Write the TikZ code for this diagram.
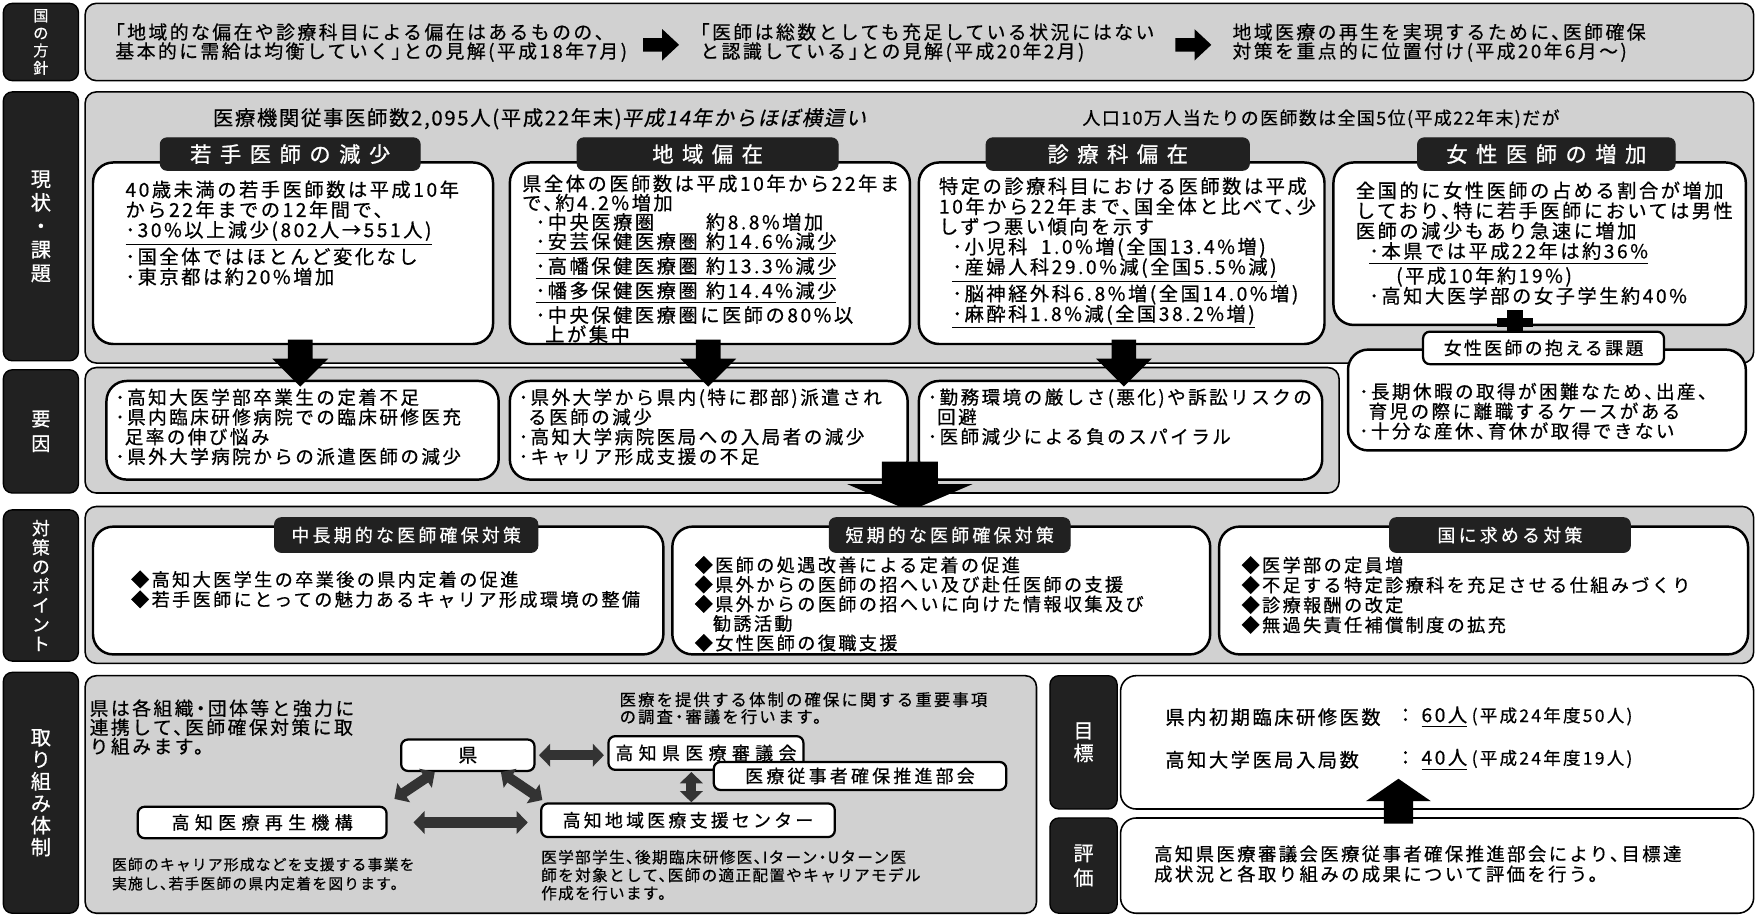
\documentclass[tikz,border=0pt]{standalone}
\usepackage{fontspec}
\setmainfont{Noto Sans CJK JP}[RawFeature=+halt,FakeBold=0.6]
\newfontfamily\fA{Noto Sans CJK JP}[LetterSpace=13,RawFeature=+halt,FakeBold=0.6]
\newfontfamily\fB{Noto Sans CJK JP}[LetterSpace=8,RawFeature=+halt,FakeBold=0.6]
\newfontfamily\fT{Noto Sans CJK JP}[LetterSpace=40,RawFeature=+halt,FakeBold=1]
\newfontfamily\fS{Noto Sans CJK JP}[LetterSpace=18,RawFeature=+halt,FakeBold=0.6]
\newfontfamily\fW{Noto Sans CJK JP}[LetterSpace=30,RawFeature=+halt,FakeBold=0.6]
\newfontfamily\fI{Noto Sans CJK JP}[LetterSpace=8,FakeSlant=0.2,RawFeature=+halt,FakeBold=0.6]
\usetikzlibrary{arrows.meta,calc}
\definecolor{pat}{gray}{0.82}
\definecolor{dk}{gray}{0.13}
\newcommand\bx[7]{\node[#2,minimum width={(#5-#3)*0.5pt},minimum height={(#6-#4)*0.5pt}] (#1) at ({(#3+#5)/2},{(#4+#6)/2}) {#7};}
% cx ytop ybase ytip shaftw headw
\newcommand\darr[6]{\fill[blk] ({#1-#5/2},#2) -- ({#1+#5/2},#2) -- ({#1+#5/2},#3) -- ({#1+#6/2},#3) -- (#1,#4) -- ({#1-#6/2},#3) -- ({#1-#5/2},#3) -- cycle;}
\newcommand\rarr[2]{\fill[blk] ({#1-16},{#2-6}) -- ({#1+1},{#2-6}) -- ({#1+1},{#2-14}) -- ({#1+16},#2) -- ({#1+1},{#2+14}) -- ({#1+1},{#2+6}) -- ({#1-16},{#2+6}) -- cycle;}
\tikzset{
 lab/.style={fill=dk,draw=black,line width=0.6pt,rounded corners=4pt,text=white,align=center,inner sep=0pt,outer sep=0pt},
 outer/.style={fill=pat,draw=black,line width=0.7pt,rounded corners=5pt,inner sep=0pt,outer sep=0pt},
 wbox/.style={fill=white,draw=black,line width=1.1pt,rounded corners=9pt,inner sep=0pt,outer sep=0pt},
 wthin/.style={fill=white,draw=black,line width=0.7pt,rounded corners=7pt,inner sep=0pt,outer sep=0pt},
 tabd/.style={fill=dk,draw=dk,rounded corners=3pt,text=white,inner sep=0pt,outer sep=0pt},
 sbox/.style={fill=white,draw=black,line width=1pt,rounded corners=3pt,inner sep=0pt,outer sep=0pt},
 t/.style={anchor=west,align=left,inner sep=0pt,outer sep=0pt},
 blk/.style={fill=black},
 dbl/.style={draw=black!80,line width=4.5pt,{Triangle[length=5pt,width=10pt]}-{Triangle[length=5pt,width=10pt]}},
}
\begin{document}
\begin{tikzpicture}[x=0.5pt,y=-0.5pt]
\useasboundingbox (0,0) rectangle (1568,817);
\fill[white] (0,0) rectangle (1568,817);
% ---------- Row 1 ----------
\bx{L1}{lab,font=\fontsize{6.8}{7.8}\selectfont}{3}{3}{70}{72}{国\\の\\方\\針}
\bx{R1}{outer}{76}{3}{1565}{72}{}
\node[t,font=\fA\fontsize{8.4}{8.5}\selectfont] (p1) at (103,38) {「地域的な偏在や診療科目による偏在はあるものの、\\基本的に需給は均衡していく」との見解(平成18年7月)};
\node[t,font=\fA\fontsize{8.4}{8.5}\selectfont] (p2) at (625,38) {「医師は総数としても充足している状況にはない\\と認識している」との見解(平成20年2月)};
\node[t,font=\fA\fontsize{8.4}{8.5}\selectfont] (p3) at (1100,38) {地域医療の再生を実現するために、医師確保\\対策を重点的に位置付け(平成20年6月～)};
\rarr{590}{40}
\rarr{1065}{40}
% ---------- Row 2 ----------
\bx{L2}{lab,font=\fontsize{9}{10.5}\selectfont}{3}{82}{70}{322}{現\\状\\・\\課\\題}
\bx{R2}{outer}{76}{82}{1565}{324}{}
\node[t,font=\fB\fontsize{9.1}{9.5}\selectfont] (h1) at (190,106) {医療機関従事医師数2,095人(平成22年末){\fI 平成14年からほぼ横這い}};
\node[t,font=\fB\fontsize{8.0}{9}\selectfont] (h2) at (966,106) {人口10万人当たりの医師数は全国5位(平成22年末)だが};
\bx{b21}{wbox}{83}{145}{440}{307}{}
\bx{b22}{wbox}{455}{145}{812}{307}{}
\bx{b23}{wbox}{820}{145}{1182}{307}{}
\bx{b24}{wbox}{1190}{145}{1558}{290}{}
\bx{tab21}{tabd,font=\fT\fontsize{9.5}{10}\selectfont}{143}{123}{375}{152}{若手医師の減少}
\bx{tab22}{tabd,font=\fT\fontsize{9.5}{10}\selectfont}{515}{123}{748}{152}{地域偏在}
\bx{tab23}{tabd,font=\fT\fontsize{9.5}{10}\selectfont}{880}{123}{1115}{152}{診療科偏在}
\bx{tab24}{tabd,font=\fT\fontsize{9.5}{10}\selectfont}{1265}{123}{1495}{152}{女性医師の増加}
\node[t,font=\fA\fontsize{8.6}{9}\selectfont] (x21) at (112,208) {40歳未満の若手医師数は平成10年\\から22年までの12年間で、\\\underline{･30\%以上減少(802人→551人)}\\･国全体ではほとんど変化なし\\･東京都は約20\%増加};
\node[t,font=\fA\fontsize{8.6}{8.6}\selectfont] (x22) at (466,231) {県全体の医師数は平成10年から22年ま\\で、約4.2\%増加\\
\hspace*{6pt}\makebox[76pt][l]{･中央医療圏}約8.8\%増加\\
\hspace*{6pt}\underline{\makebox[76pt][l]{･安芸保健医療圏}約14.6\%減少}\\
\hspace*{6pt}\underline{\makebox[76pt][l]{･高幡保健医療圏}約13.3\%減少}\\
\hspace*{6pt}\underline{\makebox[76pt][l]{･幡多保健医療圏}約14.4\%減少}\\
\hspace*{6pt}･中央保健医療圏に医師の80\%以\\
\hspace*{6pt}\hphantom{･}上が集中};
\node[t,font=\fA\fontsize{8.6}{9}\selectfont] (x23) at (838,226) {特定の診療科目における医師数は平成\\10年から22年まで、国全体と比べて、少\\しずつ悪い傾向を示す\\
\hspace*{6pt}･小児科\hspace{6pt}1.0\%増(全国13.4\%増)\\
\hspace*{6pt}\underline{･産婦人科29.0\%減(全国5.5\%減)}\\
\hspace*{6pt}･脳神経外科6.8\%増(全国14.0\%増)\\
\hspace*{6pt}\underline{･麻酔科1.8\%減(全国38.2\%増)}};
\node[t,font=\fA\fontsize{8.6}{9}\selectfont] (x24) at (1210,217) {全国的に女性医師の占める割合が増加\\しており、特に若手医師においては男性\\医師の減少もあり急速に増加\\
\hspace*{6pt}\underline{･本県では平成22年は約36\%}\\
\hspace*{18pt}(平成10年約19\%)\\
\hspace*{6pt}･高知大医学部の女子学生約40\%};
% plus
\fill[blk] (1345,277) rectangle (1359,300);
\fill[blk] (1336,284) rectangle (1368,292);
% ---------- Row 3 ----------
\bx{L3}{lab,font=\fontsize{8.5}{11}\selectfont}{3}{330}{70}{440}{要\\因}
\bx{R3}{outer}{76}{328}{1195}{440}{}
\bx{b31}{wbox}{95}{340}{445}{428}{}
\bx{b32}{wbox}{455}{340}{810}{428}{}
\bx{b33}{wbox}{820}{340}{1180}{428}{}
\bx{b25}{wbox}{1203}{312}{1558}{402}{}
\bx{tab25}{sbox,font=\fA\fontsize{8}{9}\selectfont}{1270}{296}{1485}{325}{女性医師の抱える課題}
\node[t,font=\fA\fontsize{8.3}{8.8}\selectfont] (x31) at (103,381) {･高知大医学部卒業生の定着不足\\･県内臨床研修病院での臨床研修医充\\\hphantom{･}足率の伸び悩み\\･県外大学病院からの派遣医師の減少};
\node[t,font=\fA\fontsize{8.3}{8.8}\selectfont] (x32) at (463,381) {･県外大学から県内(特に郡部)派遣され\\\hphantom{･}る医師の減少\\･高知大学病院医局への入局者の減少\\･キャリア形成支援の不足};
\node[t,font=\fA\fontsize{8.3}{8.8}\selectfont] (x33) at (828,372) {･勤務環境の厳しさ(悪化)や訴訟リスクの\\\hphantom{･}回避\\･医師減少による負のスパイラル};
\node[t,font=\fA\fontsize{8.3}{8.8}\selectfont] (x25) at (1213,367) {･長期休暇の取得が困難なため、出産、\\\hphantom{･}育児の際に離職するケースがある\\･十分な産休、育休が取得できない};
% arrows row2 -> row3
\darr{268}{303}{320}{345}{22}{50}
\darr{632}{303}{320}{345}{22}{50}
\darr{1003}{303}{320}{345}{22}{50}
\darr{812}{412}{432}{456}{50}{112}
% ---------- Row 4 ----------
\bx{L4}{lab,font=\fontsize{8}{8.6}\selectfont}{3}{455}{70}{590}{対\\策\\の\\ポ\\イ\\ン\\ト}
\bx{R4}{outer}{76}{452}{1565}{592}{}
\bx{b41}{wbox}{83}{470}{592}{584}{}
\bx{b42}{wbox}{600}{470}{1080}{584}{}
\bx{b43}{wbox}{1088}{470}{1560}{584}{}
\bx{tab41}{tabd,font=\fS\fontsize{8}{9}\selectfont}{245}{462}{480}{493}{中長期的な医師確保対策}
\bx{tab42}{tabd,font=\fS\fontsize{8}{9}\selectfont}{740}{462}{955}{493}{短期的な医師確保対策}
\bx{tab43}{tabd,font=\fS\fontsize{8}{9}\selectfont}{1240}{462}{1455}{493}{国に求める対策}
\node[t,font=\fA\fontsize{8.1}{8.9}\selectfont] (x41) at (117,526) {◆高知大医学生の卒業後の県内定着の促進\\◆若手医師にとっての魅力あるキャリア形成環境の整備};
\node[t,font=\fA\fontsize{8.1}{8.7}\selectfont] (x42) at (620,539) {◆医師の処遇改善による定着の促進\\◆県外からの医師の招へい及び赴任医師の支援\\◆県外からの医師の招へいに向けた情報収集及び\\\hphantom{◆}勧誘活動\\◆女性医師の復職支援};
\node[t,font=\fA\fontsize{8.1}{8.9}\selectfont] (x43) at (1108,531) {◆医学部の定員増\\◆不足する特定診療科を充足させる仕組みづくり\\◆診療報酬の改定\\◆無過失責任補償制度の拡充};
% ---------- Row 5 ----------
\bx{L5}{lab,font=\fontsize{9}{9.8}\selectfont}{3}{600}{70}{815}{取\\り\\組\\み\\体\\制}
\bx{R5}{outer}{76}{603}{925}{815}{}
\node[t,font=\fA\fontsize{8.4}{8.5}\selectfont] (y1) at (80,649) {県は各組織・団体等と強力に\\連携して、医師確保対策に取\\り組みます。};
\node[t,font=\fA\fontsize{7.3}{7.6}\selectfont] (y2) at (553,632) {医療を提供する体制の確保に関する重要事項\\の調査・審議を行います。};
\bx{ken}{sbox,font=\fA\fontsize{8.4}{9}\selectfont}{358}{660}{477}{688}{県}
\bx{shingi}{sbox,font=\fW\fontsize{8}{9}\selectfont}{543}{657}{717}{687}{高知県医療審議会}
\bx{bukai}{sbox,font=\fS\fontsize{8}{9}\selectfont}{637}{680}{898}{705}{医療従事者確保推進部会}
\bx{shien}{sbox,font=\fS\fontsize{8}{9}\selectfont}{483}{717}{745}{747}{高知地域医療支援センター}
\bx{kikou}{sbox,font=\fW\fontsize{8}{9}\selectfont}{123}{720}{345}{748}{高知医療再生機構}
\coordinate (v1) at (617,689);
\coordinate (v2) at (617,716);
\coordinate (d1) at (352,713);
\coordinate (d2) at (388,689);
\coordinate (d3) at (447,689);
\coordinate (d4) at (484,714);
\draw[dbl,shorten <=2pt,shorten >=2pt] (ken.east) -- (ken.east -| shingi.west);
\draw[dbl] (v1) -- (v2);
\draw[dbl] (d1) -- (d2);
\draw[dbl] (d3) -- (d4);
\draw[dbl,shorten <=12pt,shorten >=6pt] (kikou.east) -- (kikou.east -| shien.west);
\node[t,font=\fB\fontsize{6.6}{8.5}\selectfont] (y3) at (100,780) {医師のキャリア形成などを支援する事業を\\実施し、若手医師の県内定着を図ります。};
\node[t,font=\fB\fontsize{7}{8}\selectfont] (y4) at (483,781) {医学部学生、後期臨床研修医、Iターン・Uターン医\\師を対象として、医師の適正配置やキャリアモデル\\作成を行います。};
% goals
\bx{LG}{lab,font=\fontsize{9}{10}\selectfont}{937}{603}{997}{722}{目\\標}
\bx{G}{wthin}{1000}{603}{1565}{722}{}
\bx{LE}{lab,font=\fontsize{9}{11}\selectfont}{937}{730}{997}{815}{評\\価}
\bx{E}{wthin}{1000}{730}{1565}{815}{}
\node[t,font=\fA\fontsize{8.6}{9}\selectfont] (g1) at (1040,640) {県内初期臨床研修医数};
\node[t,font=\fA\fontsize{8.6}{9}\selectfont] (g1v) at (1250,640) {：\hspace{5pt}\underline{60人}\hspace{2pt}{\fontsize{7.8}{9}\selectfont(平成24年度50人)}};
\node[t,font=\fA\fontsize{8.6}{9}\selectfont] (g2) at (1040,678) {高知大学医局入局数};
\node[t,font=\fA\fontsize{8.6}{9}\selectfont] (g2v) at (1250,678) {：\hspace{5pt}\underline{40人}\hspace{2pt}{\fontsize{7.8}{9}\selectfont(平成24年度19人)}};
\node[t,font=\fA\fontsize{8.2}{9}\selectfont] (e1) at (1030,771) {高知県医療審議会医療従事者確保推進部会により、目標達\\成状況と各取り組みの成果について評価を行う。};
\darr{1248}{735}{715}{695}{26}{58}
\end{tikzpicture}
\end{document}
